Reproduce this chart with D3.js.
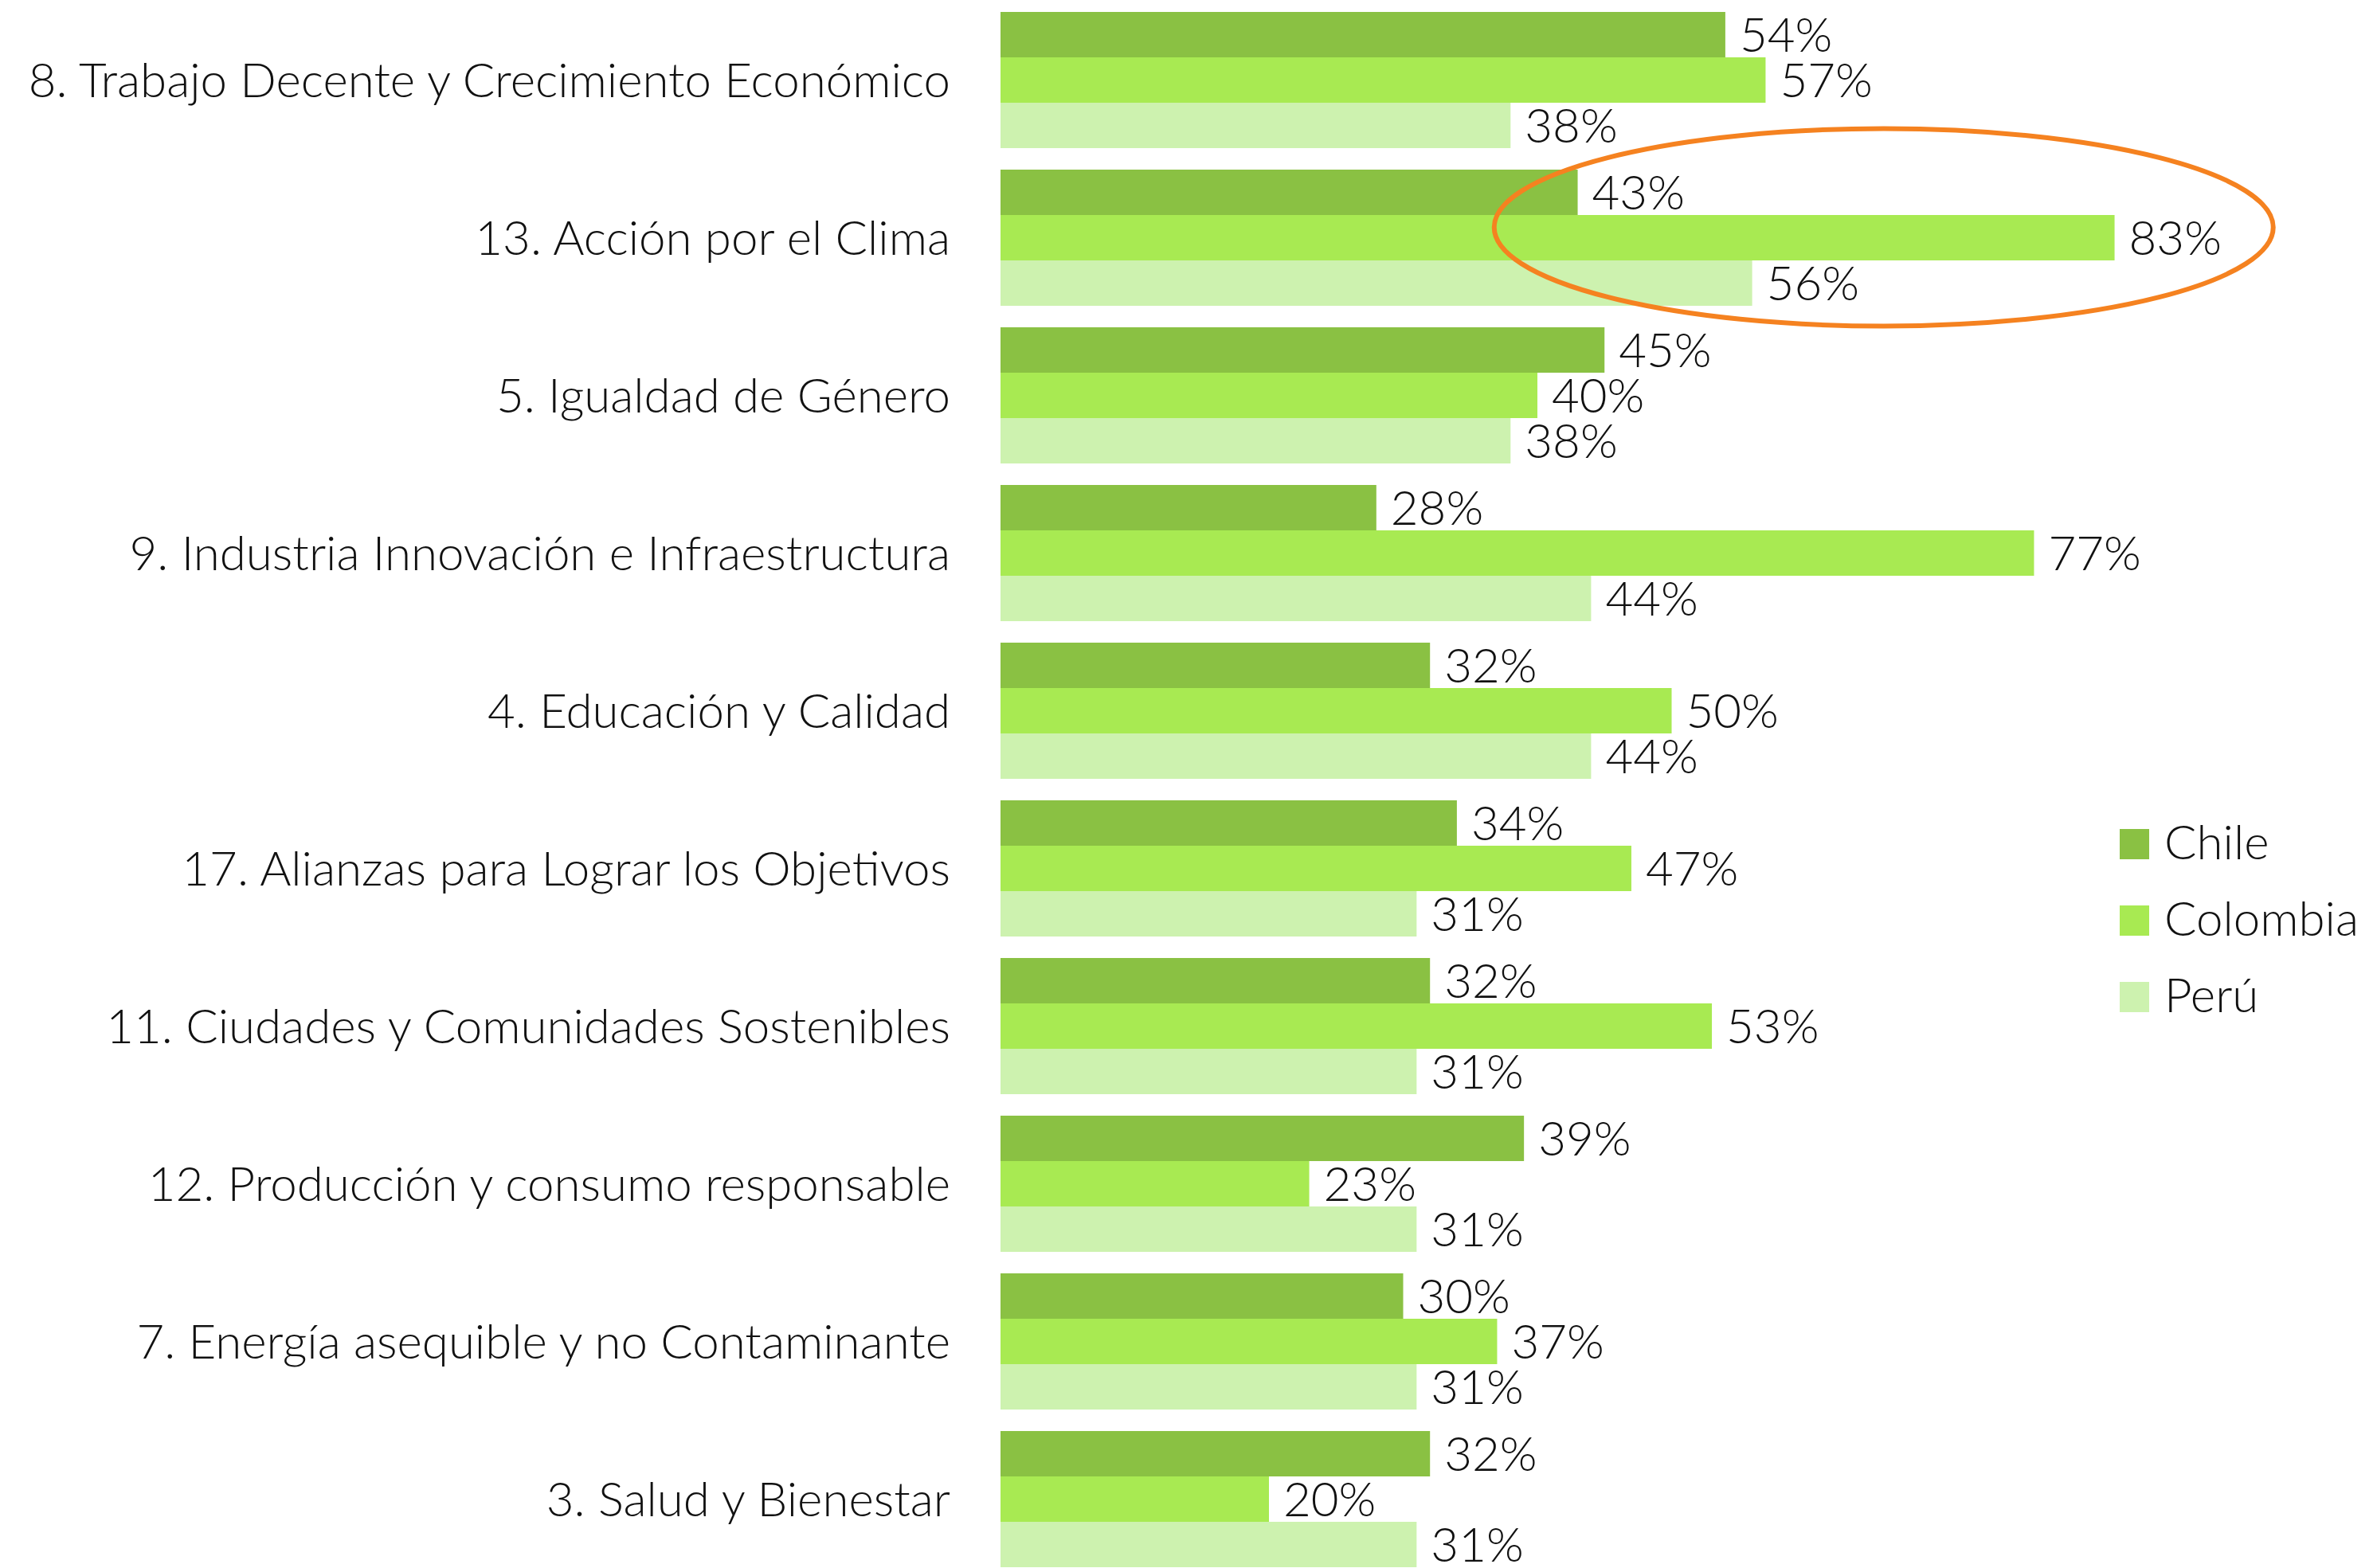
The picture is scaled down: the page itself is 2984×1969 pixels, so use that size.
<!DOCTYPE html>
<html>
<head>
<meta charset="utf-8">
<script src="https://cdn.jsdelivr.net/npm/d3@7"></script>
<style>
  html, body { margin: 0; padding: 0; background: #fff; }
  svg { display: block; }
  text { font-family: Lato, "Open Sans", sans-serif; font-weight: 300; fill: #111; }
</style>
</head>
<body>
<svg id="chart" width="2984" height="1969"></svg>
<script>
// categories, top to bottom
var categories = [
  "8. Trabajo Decente y Crecimiento Económico",
  "13. Acción por el Clima",
  "5. Igualdad de Género",
  "9. Industria Innovación e Infraestructura",
  "4. Educación y Calidad",
  "17. Alianzas para Lograr los Objetivos",
  "11. Ciudades y Comunidades Sostenibles",
  "12. Producción y consumo responsable",
  "7. Energía asequible y no Contaminante",
  "3. Salud y Bienestar"
];
var series = ["Chile", "Colombia", "Perú"];
var chile    = [54, 43, 45, 28, 32, 34, 32, 39, 30, 32];
var colombia = [57, 83, 40, 77, 50, 47, 53, 23, 37, 20];
var peru     = [38, 56, 38, 44, 44, 31, 31, 31, 31, 31];
var colors = ["#8ac143", "#a8ea52", "#cdf2af"];

var values = [chile, colombia, peru];

var svg = d3.select("#chart");

var x = d3.scaleLinear().domain([0, 100]).range([1256, 2941]);
var y = d3.scaleBand().domain(categories).range([15, 1968]).paddingInner(0.1364).paddingOuter(0);
var ySub = d3.scaleBand().domain(series).range([0, y.bandwidth()]);
var color = d3.scaleOrdinal().domain(series).range(colors);

var rows = [];
categories.forEach(function(c, i) {
  series.forEach(function(s, j) {
    rows.push({ cat: c, series: s, value: values[j][i] });
  });
});

var groups = svg.append("g").attr("class", "bars");

groups.selectAll("rect")
  .data(rows)
  .enter().append("rect")
  .attr("x", x(0))
  .attr("y", d => y(d.cat) + ySub(d.series))
  .attr("width", d => x(d.value) - x(0))
  .attr("height", ySub.bandwidth())
  .attr("fill", d => color(d.series));

groups.selectAll("text.value")
  .data(rows)
  .enter().append("text")
  .attr("class", "value")
  .attr("x", d => x(d.value) + 18)
  .attr("y", d => y(d.cat) + ySub(d.series) + ySub.bandwidth() / 2)
  .attr("dy", "0.36em")
  .style("font-size", "60px")
  .text(d => d.value + "%");

// category labels
svg.append("g").selectAll("text")
  .data(categories)
  .enter().append("text")
  .attr("x", 1193)
  .attr("y", d => y(d) + y.bandwidth() / 2)
  .attr("dy", "0.36em")
  .attr("text-anchor", "end")
  .style("font-size", "60px")
  .text(d => d);

// legend
var legend = svg.append("g").attr("transform", "translate(2661,1041)");
var item = legend.selectAll("g")
  .data(series)
  .enter().append("g")
  .attr("transform", (d, i) => `translate(0,${i * 96})`);
item.append("rect")
  .attr("width", 37).attr("height", 38)
  .attr("fill", d => color(d));
item.append("text")
  .attr("x", 56).attr("y", 38)
  .style("font-size", "60px")
  .text(d => d);

// highlight ellipse on "13. Acción por el Clima"
svg.append("ellipse")
  .attr("cx", x(65.8))
  .attr("cy", y(categories[1]) + y.bandwidth() / 2 - 13)
  .attr("rx", 489)
  .attr("ry", 124)
  .attr("fill", "none")
  .attr("stroke", "#f58220")
  .attr("stroke-width", 6);
</script>
</body>
</html>
